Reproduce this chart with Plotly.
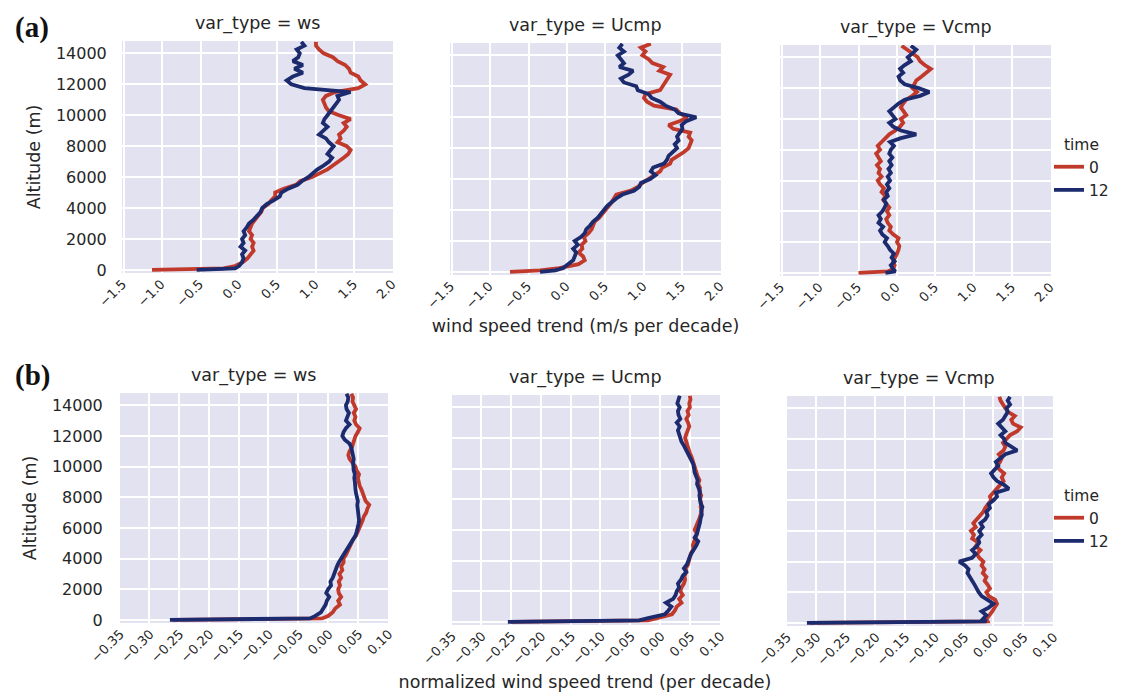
import plotly.graph_objects as go

# ---------------- data ----------------
altitude = [0, 100, 250, 500, 750, 1000, 1250, 1500, 1750, 2000,
            2250, 2500, 2750, 3000, 3250, 3500, 3750, 4000, 4250, 4500,
            4750, 5000, 5250, 5500, 5750, 6000, 6250, 6500, 6750, 7000,
            7250, 7500, 7750, 8000, 8250, 8500, 8750, 9000, 9250, 9500,
            9750, 10000, 10250, 10500, 10750, 11000, 11250, 11500, 11750, 12000,
            12250, 12500, 12750, 13000, 13250, 13500, 13750, 14000, 14250, 14500,
            14750]

var_types = ["ws", "Ucmp", "Vcmp"]
times = ["0", "12"]

# (a) wind speed trend (m/s per decade)
ws_a_t0 = [-1.13, -0.20, -0.05, 0.05, 0.11, 0.15, 0.19, 0.17, 0.19, 0.15,
           0.17, 0.13, 0.15, 0.17, 0.21, 0.25, 0.29, 0.31, 0.38, 0.42,
           0.47, 0.47, 0.58, 0.74, 0.80, 0.95, 1.05, 1.15, 1.22, 1.30,
           1.36, 1.42, 1.45, 1.40, 1.28, 1.32, 1.30, 1.36, 1.40, 1.36,
           1.45, 1.30, 1.17, 1.13, 1.11, 1.09, 1.13, 1.25, 1.55, 1.64,
           1.58, 1.55, 1.45, 1.43, 1.38, 1.28, 1.22, 1.10, 1.04, 1.00,
           1.00]
ws_a_t12 = [-0.55, -0.05, 0.00, 0.04, 0.06, 0.04, 0.08, 0.02, 0.06, 0.04,
            0.08, 0.06, 0.10, 0.13, 0.19, 0.23, 0.28, 0.30, 0.36, 0.45,
            0.53, 0.55, 0.64, 0.76, 0.82, 0.90, 0.96, 1.02, 1.10, 1.17,
            1.21, 1.15, 1.19, 1.23, 1.17, 1.13, 1.04, 1.09, 1.15, 1.09,
            1.11, 1.15, 1.19, 1.23, 1.26, 1.30, 1.28, 1.45, 0.85, 0.68,
            0.62, 0.70, 0.83, 0.72, 0.83, 0.70, 0.77, 0.79, 0.75, 0.85,
            0.81]
ucmp_a_t0 = [-0.74, -0.35, -0.10, 0.15, 0.23, 0.21, 0.15, 0.20, 0.19, 0.24,
             0.22, 0.28, 0.32, 0.34, 0.36, 0.42, 0.46, 0.50, 0.55, 0.58,
             0.61, 0.64, 0.83, 0.92, 0.98, 1.06, 1.13, 1.21, 1.24, 1.34,
             1.36, 1.45, 1.52, 1.58, 1.60, 1.62, 1.58, 1.60, 1.38, 1.32,
             1.47, 1.56, 1.47, 1.42, 1.13, 1.04, 1.00, 1.02, 1.21, 1.24,
             1.28, 1.30, 1.34, 1.20, 1.25, 1.11, 1.06, 0.98, 1.02, 0.96,
             1.09]
ucmp_a_t12 = [-0.35, -0.15, -0.05, 0.02, 0.08, 0.10, 0.12, 0.08, 0.14, 0.10,
              0.18, 0.23, 0.25, 0.30, 0.34, 0.40, 0.44, 0.48, 0.52, 0.58,
              0.64, 0.72, 0.87, 0.94, 0.96, 1.08, 1.15, 1.09, 1.12, 1.26,
              1.30, 1.32, 1.38, 1.43, 1.40, 1.45, 1.43, 1.47, 1.50, 1.49,
              1.55, 1.68, 1.45, 1.40, 1.28, 1.21, 1.10, 1.06, 0.92, 0.90,
              0.74, 0.70, 0.80, 0.86, 0.68, 0.74, 0.70, 0.66, 0.74, 0.68,
              0.72]
vcmp_a_t0 = [-0.50, -0.12, -0.05, -0.03, -0.05, -0.02, 0.00, 0.02, 0.03, 0.00,
             0.02, -0.05, -0.10, -0.08, -0.12, -0.14, -0.10, -0.13, -0.10, -0.14,
             -0.18, -0.15, -0.20, -0.17, -0.22, -0.25, -0.20, -0.24, -0.22, -0.26,
             -0.21, -0.24, -0.27, -0.22, -0.25, -0.20, -0.15, -0.10, -0.02, 0.04,
             0.08, 0.05, 0.12, 0.09, 0.05, 0.08, 0.12, 0.20, 0.26, 0.20,
             0.22, 0.25, 0.32, 0.38, 0.44, 0.36, 0.30, 0.27, 0.20, 0.15,
             0.06]
vcmp_a_t12 = [-0.15, -0.02, -0.05, -0.08, -0.03, -0.07, -0.04, -0.09, -0.12, -0.16,
              -0.13, -0.19, -0.22, -0.18, -0.24, -0.21, -0.24, -0.19, -0.16, -0.14,
              -0.17, -0.12, -0.14, -0.10, -0.13, -0.09, -0.12, -0.08, -0.11, -0.07,
              -0.10, -0.06, -0.10, -0.08, -0.04, -0.09, 0.05, 0.25, 0.05, -0.05,
              -0.10, -0.02, -0.06, -0.10, -0.04, 0.02, 0.10, 0.30, 0.42, 0.28,
              0.10, 0.04, 0.02, 0.08, 0.04, 0.10, 0.18, 0.14, 0.20, 0.25,
              0.18]

# (b) normalized wind speed trend (per decade)
ws_b_t0 = [-0.260, -0.010, 0.000, 0.008, 0.012, 0.020, 0.017, 0.022, 0.018, 0.017,
           0.020, 0.018, 0.022, 0.019, 0.024, 0.022, 0.026, 0.026, 0.030, 0.033,
           0.036, 0.038, 0.042, 0.047, 0.050, 0.052, 0.055, 0.058, 0.060, 0.064,
           0.066, 0.069, 0.063, 0.061, 0.059, 0.056, 0.053, 0.051, 0.050, 0.052,
           0.048, 0.046, 0.040, 0.036, 0.034, 0.036, 0.040, 0.042, 0.044, 0.046,
           0.050, 0.053, 0.047, 0.044, 0.046, 0.043, 0.047, 0.044, 0.041, 0.042,
           0.039]
ws_b_t12 = [-0.265, -0.030, -0.022, -0.012, -0.008, -0.004, -0.002, 0.002, -0.003, 0.000,
            0.005, 0.004, 0.008, 0.010, 0.012, 0.015, 0.018, 0.022, 0.026, 0.030,
            0.034, 0.038, 0.043, 0.046, 0.048, 0.050, 0.051, 0.052, 0.051, 0.050,
            0.050, 0.049, 0.050, 0.048, 0.047, 0.046, 0.046, 0.045, 0.044, 0.045,
            0.043, 0.042, 0.042, 0.043, 0.042, 0.041, 0.039, 0.036, 0.028, 0.024,
            0.026, 0.030, 0.036, 0.030, 0.032, 0.035, 0.031, 0.030, 0.033, 0.034,
            0.031]
ucmp_b_t0 = [-0.250, -0.020, -0.005, 0.020, 0.025, 0.028, 0.036, 0.032, 0.038, 0.034,
             0.036, 0.040, 0.042, 0.041, 0.044, 0.043, 0.047, 0.048, 0.050, 0.052,
             0.056, 0.055, 0.057, 0.060, 0.062, 0.058, 0.061, 0.063, 0.066, 0.068,
             0.070, 0.068, 0.069, 0.067, 0.069, 0.066, 0.067, 0.064, 0.066, 0.063,
             0.061, 0.060, 0.058, 0.056, 0.053, 0.050, 0.048, 0.046, 0.044, 0.042,
             0.044, 0.046, 0.049, 0.047, 0.044, 0.048, 0.046, 0.050, 0.049, 0.051,
             0.050]
ucmp_b_t12 = [-0.255, -0.035, -0.020, 0.008, 0.014, 0.019, 0.010, 0.022, 0.026, 0.028,
              0.032, 0.030, 0.035, 0.038, 0.044, 0.040, 0.045, 0.047, 0.050, 0.053,
              0.058, 0.061, 0.064, 0.058, 0.062, 0.064, 0.066, 0.067, 0.068, 0.070,
              0.069, 0.071, 0.068, 0.067, 0.066, 0.067, 0.065, 0.062, 0.063, 0.060,
              0.058, 0.057, 0.056, 0.053, 0.050, 0.047, 0.044, 0.040, 0.036, 0.034,
              0.031, 0.030, 0.033, 0.028, 0.034, 0.031, 0.030, 0.033, 0.029, 0.031,
              0.033]
vcmp_b_t0 = [-0.310, -0.010, -0.012, -0.006, -0.002, 0.002, 0.006, 0.003, -0.008, -0.012,
             -0.006, -0.010, -0.015, -0.012, -0.018, -0.015, -0.020, -0.017, -0.024, -0.028,
             -0.022, -0.030, -0.026, -0.036, -0.033, -0.038, -0.030, -0.034, -0.028, -0.022,
             -0.017, -0.014, -0.009, -0.004, -0.006, 0.000, 0.006, 0.011, 0.017, 0.014,
             0.018, 0.010, 0.006, 0.011, 0.014, 0.009, 0.017, 0.020, 0.016, 0.022,
             0.028, 0.040, 0.046, 0.033, 0.030, 0.036, 0.025, 0.020, 0.016, 0.012,
             0.010]
vcmp_b_t12 = [-0.315, -0.012, -0.018, -0.012, -0.020, -0.008, 0.000, -0.010, -0.020, -0.025,
              -0.028, -0.032, -0.036, -0.040, -0.044, -0.042, -0.048, -0.058, -0.036, -0.030,
              -0.036, -0.028, -0.024, -0.026, -0.020, -0.024, -0.018, -0.022, -0.014, -0.010,
              -0.012, -0.006, -0.008, 0.000, 0.006, 0.004, 0.026, 0.018, 0.006, 0.000,
              -0.004, 0.002, 0.008, 0.004, 0.012, 0.020, 0.040, 0.030, 0.020, 0.018,
              0.012, 0.020, 0.014, 0.008, 0.016, 0.020, 0.024, 0.022, 0.028, 0.024,
              0.028]

x_ticks_a = [-1.5, -1.0, -0.5, 0.0, 0.5, 1.0, 1.5, 2.0]
x_ticks_b = [-0.35, -0.30, -0.25, -0.20, -0.15, -0.10, -0.05, 0.00, 0.05, 0.10]
y_ticks = [0, 2000, 4000, 6000, 8000, 10000, 12000, 14000]

series_a = {"ws": (ws_a_t0, ws_a_t12), "Ucmp": (ucmp_a_t0, ucmp_a_t12), "Vcmp": (vcmp_a_t0, vcmp_a_t12)}
series_b = {"ws": (ws_b_t0, ws_b_t12), "Ucmp": (ucmp_b_t0, ucmp_b_t12), "Vcmp": (vcmp_b_t0, vcmp_b_t12)}

# ---------------- style / layout ----------------
W, H = 1126, 696
RED = "#C0392B"
BLUE = "#1C2A6E"
BG = "#E2E2F1"
TXT = "#262626"
FONT = "DejaVu Sans"

# panel boxes in pixels: (left, right, top, bottom)
boxes_a = [(114, 385, 33, 265), (442, 713, 35, 267), (772, 1043, 37, 268)]
boxes_b = [(110, 380, 385, 615), (442, 712, 387, 617), (777, 1045, 388, 618)]

fig = go.Figure()
layout = dict(width=W, height=H, margin=dict(l=0, r=0, t=0, b=0, autoexpand=False),
              paper_bgcolor="white", plot_bgcolor=BG,
              font=dict(family=FONT, color=TXT))
annotations = []

rows = [("a", boxes_a, series_a, x_ticks_a, [-1.52, 2.001], ".1f",
         "wind speed trend (m/s per decade)", "legend"),
        ("b", boxes_b, series_b, x_ticks_b, [-0.352, 0.1005], ".2f",
         "normalized wind speed trend (per decade)", "legend2")]

k = 0
for r, (tag, boxes, series, xt, xr, fmt, xtitle, leg) in enumerate(rows):
    for c, vt in enumerate(var_types):
        k += 1
        xa = "x" if k == 1 else f"x{k}"
        ya = "y" if k == 1 else f"y{k}"
        left, right, top, bottom = boxes[c]
        xdom = [left / W, right / W]
        ydom = [1 - bottom / H, 1 - top / H]
        t0, t12 = series[vt]
        for name, vals, col in (("0", t0, RED), ("12", t12, BLUE)):
            fig.add_trace(go.Scatter(
                x=vals, y=altitude, mode="lines", name=name,
                line=dict(color=col, width=3.8),
                xaxis=xa, yaxis=ya, legend=leg,
                showlegend=(c == 0)))
        xkey = "xaxis" if k == 1 else f"xaxis{k}"
        ykey = "yaxis" if k == 1 else f"yaxis{k}"
        layout[xkey] = dict(
            domain=xdom, anchor=ya, range=xr, tickmode="array", tickvals=xt,
            tickformat=fmt, tickangle=-45, showgrid=True, gridcolor="white",
            gridwidth=1.5, zeroline=False, showline=False, ticks="",
            automargin=False,
            tickfont=dict(size=13, family=FONT, color=TXT),
            ticklabelshift=-1 if tag == "a" else 1)
        if c == 1:
            layout[xkey]["title"] = dict(text=xtitle, standoff=9,
                                         font=dict(size=17.5, family=FONT, color=TXT))
        layout[ykey] = dict(
            domain=ydom, anchor=xa, range=[-200, 14800], tickmode="array",
            tickvals=y_ticks, tickformat="d", showgrid=True, gridcolor="white",
            gridwidth=1.5, zeroline=False, showline=False,
            ticks="outside" if c == 0 else "", ticklen=11,
            tickcolor="rgba(0,0,0,0)",
            automargin=False,
            showticklabels=(c == 0),
            tickfont=dict(size=16, family=FONT, color=TXT))
        if c == 0:
            layout[ykey]["title"] = dict(text="Altitude (m)", standoff=10,
                                         font=dict(size=17.5, family=FONT, color=TXT))
        annotations.append(dict(
            text=f"var_type = {vt}", xref=f"{xa} domain", yref=f"{ya} domain",
            x=0.5, y=1, xanchor="center", yanchor="bottom", yshift=5,
            showarrow=False, font=dict(size=17.5, family=FONT, color=TXT)))

annotations.append(dict(text="<b>(a)</b>", xref="paper", yref="paper",
                        x=5 / W, y=1 - 1 / H, xanchor="left", yanchor="top",
                        showarrow=False,
                        font=dict(size=29, family="Liberation Serif", color="#111111")))
annotations.append(dict(text="<b>(b)</b>", xref="paper", yref="paper",
                        x=5 / W, y=1 - 349 / H, xanchor="left", yanchor="top",
                        showarrow=False,
                        font=dict(size=29, family="Liberation Serif", color="#111111")))

legend_style = dict(title=dict(text="time", side="top center",
                               font=dict(size=15.5, family=FONT, color=TXT)),
                    font=dict(size=15.5, family=FONT, color=TXT),
                    bgcolor="rgba(0,0,0,0)", borderwidth=0,
                    xanchor="left", yanchor="top")
layout["legend"] = dict(legend_style, x=1041 / W, y=1 - 122 / H)
layout["legend2"] = dict(legend_style, x=1041 / W, y=1 - 473 / H)
layout["annotations"] = annotations

fig.update_layout(**layout)
fig.write_html("out.html")
